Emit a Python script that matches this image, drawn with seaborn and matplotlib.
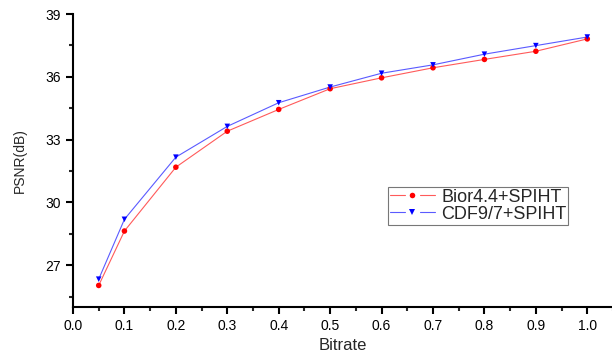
import matplotlib
matplotlib.use("Agg")
import matplotlib.pyplot as plt
import seaborn as sns
import pandas as pd
from matplotlib.ticker import MultipleLocator
from matplotlib.lines import Line2D
from matplotlib.legend_handler import HandlerTuple

bitrate = [0.05, 0.1, 0.2, 0.3, 0.4, 0.5, 0.6, 0.7, 0.8, 0.9, 1.0]
bior = [26.03, 28.63, 31.68, 33.40, 34.44, 35.43, 35.95, 36.43, 36.83, 37.22, 37.81]
cdf = [26.33, 29.19, 32.16, 33.63, 34.76, 35.51, 36.17, 36.57, 37.08, 37.49, 37.90]
series_names = ["Bior4.4+SPIHT", "CDF9/7+SPIHT"]
marker_colors = {series_names[0]: "#ff0000", series_names[1]: "#0000ff"}
line_colors = {series_names[0]: "#ff5a5a", series_names[1]: "#5a5aff"}
markers = {series_names[0]: "o", series_names[1]: "v"}

sns.set_theme(style="ticks")
plt.rcParams['font.family'] = ['Liberation Sans', 'DejaVu Sans']

df = pd.DataFrame({
    "Bitrate": bitrate * 2,
    "PSNR": bior + cdf,
    "Method": [series_names[0]] * len(bitrate) + [series_names[1]] * len(bitrate),
})

fig = plt.figure(figsize=(6.12, 3.52), dpi=100)
ax = fig.add_axes([73/612, 45/352, 540/612, 293/352])

sns.lineplot(data=df, x="Bitrate", y="PSNR", hue="Method",
             palette=line_colors, linewidth=0.8, legend=False, ax=ax)
sns.scatterplot(data=df, x="Bitrate", y="PSNR", hue="Method", style="Method",
                palette=marker_colors, markers=markers, s=16, linewidth=0,
                legend=False, ax=ax, zorder=3)

ax.set_xlim(0, 1.05)
ax.set_ylim(25, 39)
ax.xaxis.set_major_locator(MultipleLocator(0.1))
ax.xaxis.set_minor_locator(MultipleLocator(0.05))
ax.set_yticks([27, 30, 33, 36, 39])
ax.set_yticks([25.5, 28.5, 31.5, 34.5, 37.5], minor=True)

for s in ["top", "right"]:
    ax.spines[s].set_visible(False)
for s in ["left", "bottom"]:
    ax.spines[s].set_linewidth(1.5)
    ax.spines[s].set_color("black")

ax.tick_params(axis="both", which="major", length=5, width=1.5, labelsize=10, colors="black", pad=4)
ax.tick_params(axis="both", which="minor", length=3, width=1.5)
ax.set_xticklabels([f"{v:.1f}" for v in ax.get_xticks()])
ax.set_yticklabels([f"{int(v)}" for v in ax.get_yticks()])

ax.set_xlabel("Bitrate", fontsize=12, labelpad=3)
ax.set_ylabel("PSNR(dB)", fontsize=10, labelpad=13)

handles = []
for name in series_names:
    ln_left = Line2D([], [], color=line_colors[name], lw=0.8)
    mk = Line2D([], [], color=marker_colors[name], marker=markers[name], ls="none",
                ms=4, markeredgewidth=0)
    ln_right = Line2D([], [], color=line_colors[name], lw=0.8)
    handles.append((ln_left, mk, ln_right))

leg = ax.legend(handles, series_names, loc="upper left",
                bbox_to_anchor=((388 - 73) / 540, (307 - 187) / 293),
                handler_map={tuple: HandlerTuple(ndivide=None, pad=0)},
                frameon=True, fancybox=False, edgecolor="#555555",
                fontsize=13, handlelength=2.5, borderpad=0.1, labelspacing=0.0,
                handletextpad=0.35, borderaxespad=0)
leg.get_frame().set_linewidth(0.8)

fig.savefig("out.png", dpi=100)
